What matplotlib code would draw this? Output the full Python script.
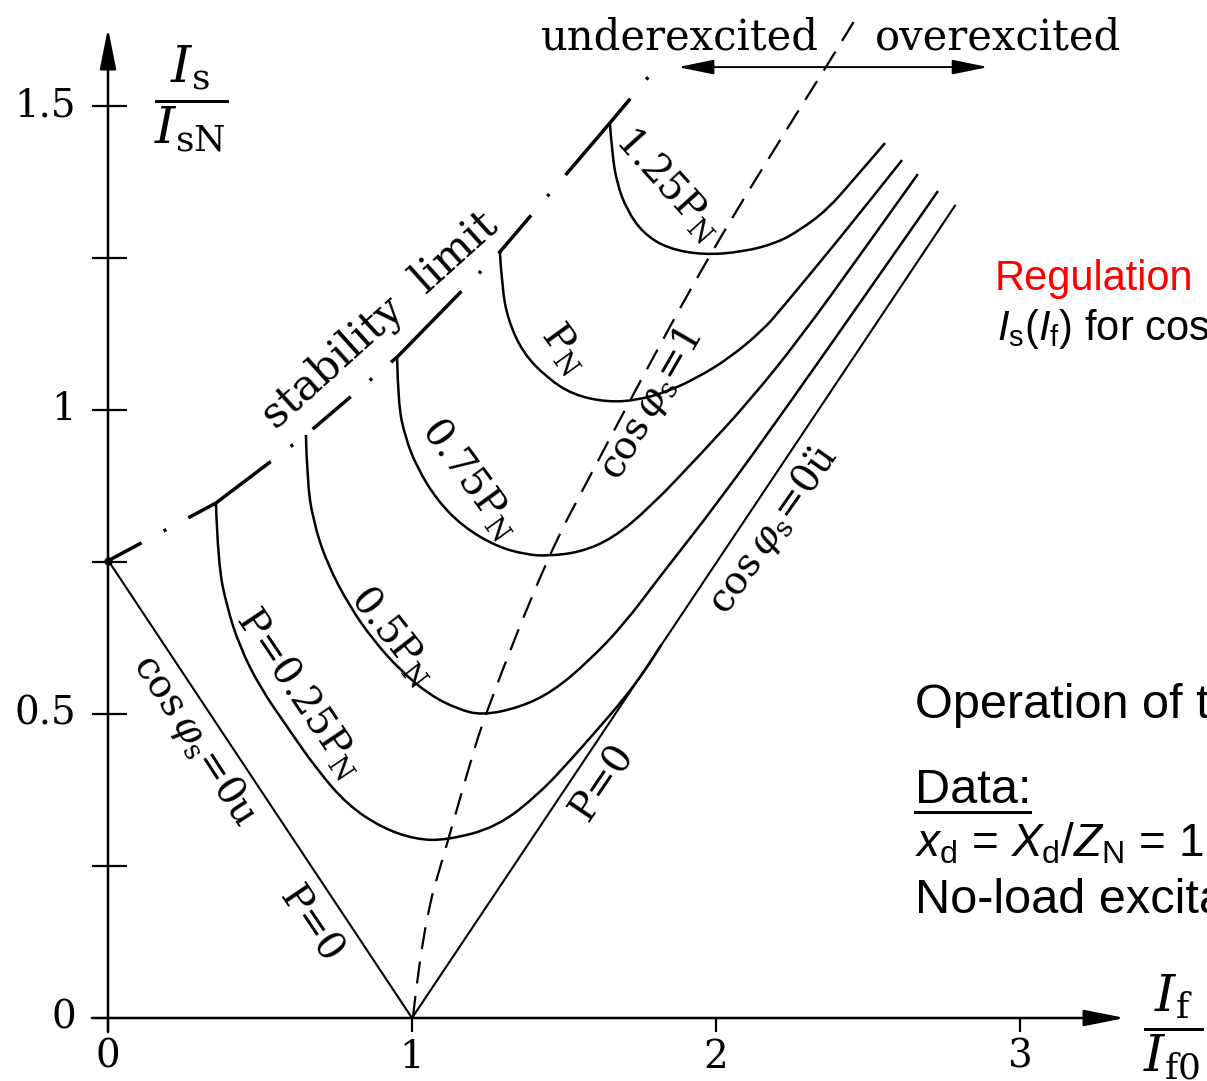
"""V-curves of a synchronous machine on the grid: Is/IsN over If/If0."""

import matplotlib
matplotlib.use("Agg")
import matplotlib.pyplot as plt
from matplotlib.lines import Line2D
from matplotlib.path import Path
from matplotlib.patches import PathPatch

plt.rcParams["lines.scale_dashes"] = False
plt.rcParams["mathtext.fontset"] = "custom"
plt.rcParams["mathtext.rm"] = "Liberation Sans"
plt.rcParams["mathtext.it"] = "Liberation Sans:italic"

SERIF = "DejaVu Serif"
SANS = "Liberation Sans"

# --- axes ---
x_ticks = [0, 1, 2, 3]
x_tick_labels = ["0", "1", "2", "3"]
y_ticks = [0.25, 0.5, 0.75, 1.0, 1.25, 1.5]
y_label_pos = [0, 0.5, 1.0, 1.5]
y_tick_labels = ["0", "0.5", "1", "1.5"]

# --- P = 0 (cos phi = 0, under- and overexcited) ---
p0_if = [0.0, 1.0, 2.786]
p0_is = [0.753, 0.0, 1.336]

# --- cos phi = 1 (dashed) ---
cos1_if = [1.003, 1.035, 1.118, 1.18, 1.240, 1.447, 1.582, 1.717, 1.980, 2.293, 2.362, 2.467]
cos1_is = [0.0, 0.15, 0.291, 0.40, 0.500, 0.760, 0.888, 1.016, 1.258, 1.510, 1.564, 1.650]

# --- stability limit (dash-dot) ---
stab_if = [0.0, 0.355, 0.651, 0.951, 1.289, 1.651, 1.783]
stab_is = [0.752, 0.847, 0.959, 1.087, 1.260, 1.472, 1.551]

# --- V-curves for constant active power ---
p025_if = [0.355, 0.362, 0.391, 0.434, 0.500, 0.589, 0.688, 0.789, 0.901, 1.010,
           1.110, 1.280, 1.421, 1.530, 1.609, 1.694, 1.773, 1.820]
p025_is = [0.847, 0.748, 0.676, 0.610, 0.544, 0.479, 0.408, 0.350, 0.313, 0.294,
           0.292, 0.314, 0.370, 0.429, 0.474, 0.523, 0.576, 0.614]

p050_if = [0.651, 0.655, 0.674, 0.720, 0.796, 0.872, 0.961, 1.059, 1.151, 1.230,
           1.349, 1.461, 1.586, 1.701, 1.806, 2.013, 2.243, 2.490, 2.730]
p050_is = [0.959, 0.885, 0.819, 0.748, 0.676, 0.622, 0.572, 0.531, 0.508, 0.498,
           0.510, 0.536, 0.589, 0.650, 0.720, 0.852, 1.012, 1.188, 1.360]

p075_if = [0.951, 0.954, 0.977, 1.016, 1.082, 1.168, 1.280, 1.378, 1.447, 1.553,
           1.661, 1.783, 1.947, 2.112, 2.276, 2.474, 2.664]
p075_is = [1.087, 1.012, 0.956, 0.906, 0.852, 0.808, 0.775, 0.762, 0.760, 0.766,
           0.789, 0.840, 0.926, 1.016, 1.118, 1.255, 1.388]

p100_if = [1.289, 1.296, 1.316, 1.365, 1.444, 1.530, 1.641, 1.740, 1.839, 1.938,
           2.046, 2.155, 2.211, 2.408, 2.612]
p100_is = [1.260, 1.202, 1.148, 1.094, 1.053, 1.025, 1.013, 1.016, 1.030, 1.053,
           1.086, 1.132, 1.164, 1.283, 1.411]

p125_if = [1.651, 1.658, 1.674, 1.707, 1.760, 1.839, 1.957, 2.089, 2.201, 2.276,
           2.365, 2.451, 2.556]
p125_is = [1.472, 1.423, 1.373, 1.329, 1.291, 1.266, 1.255, 1.260, 1.275, 1.296,
           1.329, 1.378, 1.439]

v_curves = [(p025_if, p025_is), (p050_if, p050_is), (p075_if, p075_is),
            (p100_if, p100_is), (p125_if, p125_is)]

# curve labels: text, position (If, Is), rotation, size
curve_labels = [
    ("1.25P$_\\mathrm{N}$", 1.842, 1.373, -48, 28),
    ("P$_\\mathrm{N}$", 1.503, 1.102, -54, 28),
    ("0.75P$_\\mathrm{N}$", 1.191, 0.888, -54, 28),
    ("0.5P$_\\mathrm{N}$", 0.938, 0.630, -52, 28),
    ("P=0.25P$_\\mathrm{N}$", 0.632, 0.535, -56, 28),
    ("cos$\\,\\varphi_\\mathrm{s}$=0u", 0.286, 0.457, -57, 28),
    ("P=0", 0.664, 0.153, -56, 28),
    ("P=0", 1.627, 0.388, 56, 28),
    ("cos$\\,\\varphi_\\mathrm{s}$=0ü", 2.188, 0.803, 55, 28),
    ("cos$\\,\\varphi_\\mathrm{s}$=1", 1.786, 1.010, 60, 28),
    ("stability  limit", 0.895, 1.148, 42, 31),
]


def smooth(xs, ys):
    """Quadratic Bezier through the midpoints of the read points."""
    pts = list(zip(xs, ys))
    verts = [pts[0]]
    codes = [Path.MOVETO]
    for i in range(1, len(pts) - 1):
        mid = ((pts[i][0] + pts[i + 1][0]) / 2, (pts[i][1] + pts[i + 1][1]) / 2)
        verts += [pts[i], mid]
        codes += [Path.CURVE3, Path.CURVE3]
    verts.append(pts[-1])
    codes.append(Path.LINETO)
    return Path(verts, codes)


def main():
    fig = plt.figure(figsize=(12.07, 10.81), dpi=100)
    ax = fig.add_axes([0, 0, 1, 1])
    ax.set_xlim(-108 / 304, 1099 / 304)
    ax.set_ylim(-63 / 608, 1018 / 608)
    ax.axis("off")

    # axes with arrows
    arrow = dict(arrowstyle="-|>,head_length=2.5,head_width=0.5", lw=1.8,
                 color="k", shrinkA=0, shrinkB=0, mutation_scale=10)
    ax.annotate("", xy=(3.345, 0), xytext=(-0.053, 0), arrowprops=arrow)
    ax.annotate("", xy=(0, 1.628), xytext=(0, -0.023), arrowprops=arrow)

    for x in x_ticks:
        ax.plot([x, x], [0, -0.023], color="k", lw=1.6, solid_capstyle="butt")
    for y in y_ticks:
        ax.plot([-0.053, 0.0625], [y, y], color="k", lw=1.6, solid_capstyle="butt")
    for x, lab in zip(x_ticks, x_tick_labels):
        ax.text(x, -0.034, lab, ha="center", va="top", fontsize=28, family=SERIF)
    for y, lab in zip(y_label_pos, y_tick_labels):
        ax.text(-0.105, y, lab, ha="right", va="center", fontsize=28, family=SERIF)

    ax.text(0.272, 1.512, r"$\dfrac{I_\mathrm{s}}{I_\mathrm{sN}}$", ha="center",
            va="center", fontsize=37, math_fontfamily="dejavuserif")
    ax.text(3.505, -0.015, r"$\dfrac{I_\mathrm{f}}{I_\mathrm{f0}}$", ha="center",
            va="center", fontsize=37, math_fontfamily="dejavuserif")

    # curves
    ax.plot(p0_if, p0_is, color="k", lw=1.5)
    for xs, ys in v_curves:
        ax.add_patch(PathPatch(smooth(xs, ys), fill=False, edgecolor="k",
                               lw=1.8, joinstyle="round"))
    ax.add_patch(PathPatch(smooth(cos1_if, cos1_is), fill=False, edgecolor="k",
                           lw=1.6, linestyle=(0, (16, 9)), capstyle="butt"))
    ax.plot(stab_if, stab_is, color="k", lw=2.5, dash_capstyle="butt",
            linestyle=(8.6, (36, 18, 2.2, 18, 72, 18, 2.2, 18)))
    ax.plot(stab_if[0], stab_is[0], "o", color="k", ms=5)

    for text, x, y, rot, size in curve_labels:
        ax.text(x, y, text, ha="center", va="center", rotation=rot,
                rotation_mode="anchor", fontsize=size, family=SERIF,
                math_fontfamily="dejavuserif")

    # under/overexcited arrow
    ax.text(1.882, 1.612, "underexcited", ha="center", va="center",
            fontsize=30, family=SERIF)
    ax.text(2.928, 1.612, "overexcited", ha="center", va="center",
            fontsize=30, family=SERIF)
    head = dict(arrowstyle="-|>,head_length=2.2,head_width=0.45",
                lw=1.4, color="k", shrinkA=0, shrinkB=0)
    ax.annotate("", xy=(1.875, 1.564), xytext=(2.362, 1.564), arrowprops=head)
    ax.annotate("", xy=(2.895, 1.564), xytext=(2.362, 1.564), arrowprops=head)

    # side notes (cut at the right edge as in the slide)
    def fx(px):
        return px / 1207

    def fy(py):
        return 1 - py / 1081

    fig.text(fx(995), fy(290), "Regulation", color="#ff0000",
             fontsize=30, family=SANS, va="baseline")
    fig.text(fx(997), fy(340), r"$I_\mathrm{s}(I_\mathrm{f})$ for cos φ = const.",
             fontsize=30, family=SANS, va="baseline")
    fig.text(fx(915), fy(718), "Operation of the synchronous machine",
             fontsize=35, family=SANS, va="baseline")
    fig.text(fx(915), fy(803), "Data:", fontsize=35, family=SANS, va="baseline")
    fig.add_artist(Line2D([fx(915), fx(1030)], [fy(812), fy(812)], color="k",
                          lw=2.2, transform=fig.transFigure))
    fig.text(fx(915), fy(857),
             r"$x_\mathrm{d}$ = $X_\mathrm{d}$/$Z_\mathrm{N}$ = 1.33",
             fontsize=33, family=SANS, va="baseline")
    fig.text(fx(915), fy(913), "No-load excitation", fontsize=35, family=SANS,
             va="baseline")

    fig.savefig("out.png", dpi=100)
    plt.close(fig)


if __name__ == "__main__":
    main()
